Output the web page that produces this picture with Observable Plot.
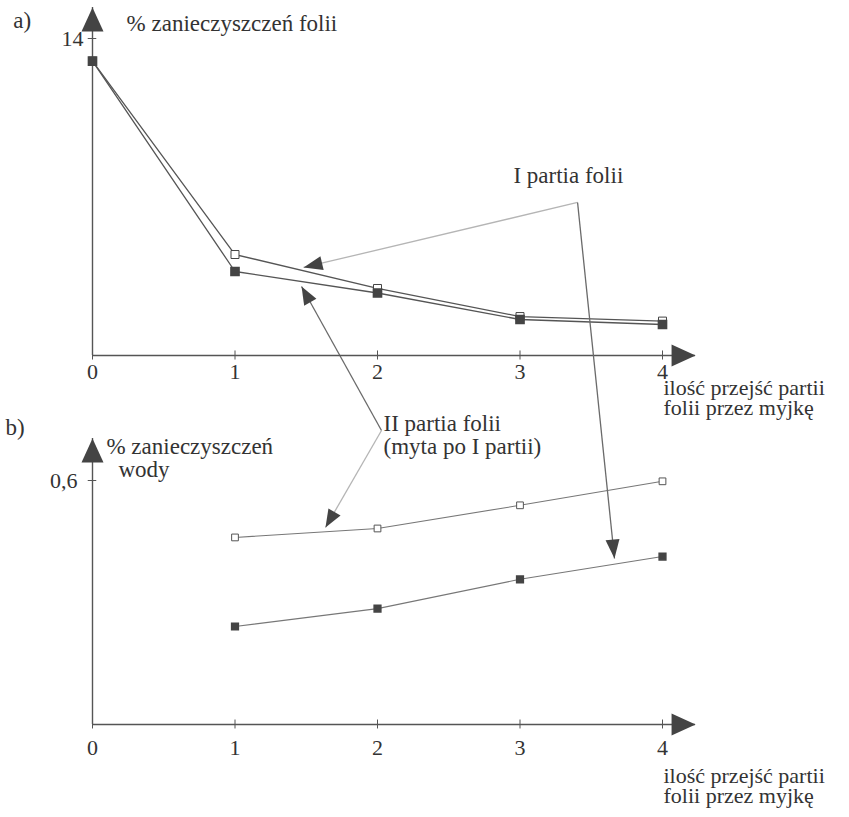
<!DOCTYPE html>
<html><head><meta charset="utf-8">
<script src="https://cdn.jsdelivr.net/npm/d3@7"></script>
<script src="https://cdn.jsdelivr.net/npm/@observablehq/plot@0.6"></script>
<style>
html,body{margin:0;padding:0;background:#fff;}
#fig{position:relative;width:849px;height:817px;overflow:hidden;}
#fig > div{position:absolute;left:0;}
</style></head><body>
<div id="fig"><div id="pb" style="top:415px"></div><div id="pa" style="top:0"></div></div>
<script>
// ---------- data ----------
const passes = [0, 1, 2, 3, 4];
const foilBatch1 = [13.0, 4.46, 2.96, 1.72, 1.52];   // open squares (a)
const foilBatch2 = [13.0, 3.71, 2.76, 1.59, 1.37];   // filled squares (a)
const waterPasses = [1, 2, 3, 4];
const waterOpen = [0.46, 0.482, 0.539, 0.598];        // open squares (b)
const waterFilled = [0.241, 0.285, 0.357, 0.413];     // filled squares (b)
const xTicks = [0, 1, 2, 3, 4];
const yTicksA = [14];
const yTicksB = [0.6];
const panelLabels = ["a)", "b)"];
const yLabelA = "% zanieczyszczeń folii";
const yLabelB = ["% zanieczyszczeń", "wody"];
const xLabel = "ilość przejść partii\nfolii przez myjkę";
const note1 = "I partia folii";
const note2 = "II partia folii\n(myta po I partii)";

// ---------- layout ----------
const W = 849, HA = 415, HB = 402;
const FONT = "'Liberation Serif', 'Times New Roman', serif", FS = 23, INK = "#333";
const xDom = [0, 4], xRng = [92, 662];
const yDomA = [0, 14], yRngA = [355, 38];
const yDomB = [0, 0.6], yRngB = [309, 65];
const xs = d3.scaleLinear(xDom, xRng);
const ysA = d3.scaleLinear(yDomA, yRngA);
const ysB = d3.scaleLinear(yDomB, yRngB);

const rowsA1 = passes.map((p, i) => ({p, v: foilBatch1[i]}));
const rowsA2 = passes.map((p, i) => ({p, v: foilBatch2[i]}));
const rowsB1 = waterPasses.map((p, i) => ({p, v: waterOpen[i]}));
const rowsB2 = waterPasses.map((p, i) => ({p, v: waterFilled[i]}));

function head(L, Wd, deg) {
  const a = deg * Math.PI / 180, c = Math.cos(a), s = Math.sin(a);
  const pts = [[0, 0], [Wd, L], [-Wd, L]].map(([x, y]) => [x * c - y * s, x * s + y * c]);
  return {draw(ctx) { ctx.moveTo(...pts[0]); ctx.lineTo(...pts[1]); ctx.lineTo(...pts[2]); ctx.closePath(); }};
}
function angle(from, to, ys) {
  const dx = xs(to.x) - xs(from.x), dy = ys(to.y) - ys(from.y);
  return Math.atan2(dx, -dy) * 180 / Math.PI;
}
function arrow(from, to, ys, color, L, Wd) {
  return [
    Plot.link([{x1: from.x, y1: from.y, x2: to.x, y2: to.y}], {x1: "x1", y1: "y1", x2: "x2", y2: "y2", stroke: color, strokeWidth: 1.3}),
    Plot.dot([to], {x: "x", y: "y", symbol: head(L, Wd, angle(from, to, ys)), fill: "#444", stroke: "none"})
  ];
}
function axisHead(tip, deg) {
  return Plot.dot([tip], {x: "x", y: "y", symbol: head(24, 11, deg), fill: "#444", stroke: "none"});
}
function txt(list, opts) {
  return Plot.text(list, {text: "t", x: "x", y: "y", textAnchor: "start", fontSize: FS, fontFamily: FONT, fill: INK, ...opts});
}
const intFmt = d => String(d);

// ---------- panel a ----------
const axTipA = {x: 4.232, y: 0}, ayTipA = {x: 0, y: 15.37};
const v1 = {x: 3.404, y: 6.758};
const plotA = Plot.plot({
  width: W, height: HA,
  marginLeft: 92, marginRight: W - 662, marginTop: 38, marginBottom: HA - 355,
  x: {domain: xDom, range: xRng},
  y: {domain: yDomA, range: yRngA},
  style: {fontFamily: FONT, fontSize: FS + "px", color: INK, overflow: "visible", background: "transparent"},
  marks: [
    Plot.ruleY([0], {x1: 0, x2: axTipA.x, stroke: "#555", strokeWidth: 1.4}),
    Plot.ruleX([0], {y1: 0, y2: ayTipA.y, stroke: "#555", strokeWidth: 1.4}),
    Plot.ruleX(xTicks, {x: d => d, y1: () => -0.2, y2: () => 0.2, stroke: "#555"}),
    Plot.ruleY(yTicksA, {y: d => d, x1: () => -0.03, x2: () => 0.03, stroke: "#555"}),
    axisHead(axTipA, 90), axisHead(ayTipA, 0),
    Plot.axisX({ticks: xTicks, tickSize: 0, tickPadding: 8, label: null, fontSize: 22, tickFormat: intFmt}),
    Plot.axisY({ticks: yTicksA, tickSize: 0, tickPadding: 9, label: null, fontSize: 22, tickFormat: intFmt}),
    Plot.line(rowsA1, {x: "p", y: "v", stroke: "#555", strokeWidth: 1.3}),
    Plot.line(rowsA2, {x: "p", y: "v", stroke: "#555", strokeWidth: 1.3}),
    Plot.dot(rowsA1, {x: "p", y: "v", symbol: "square", r: 4.5, fill: "white", stroke: "#444", strokeWidth: 1}),
    Plot.dot(rowsA2, {x: "p", y: "v", symbol: "square", r: 4.6, fill: "#444", stroke: "#444"}),
    txt([{t: panelLabels[0], x: -0.556, y: 14.8}]),
    txt([{t: yLabelA, x: 0.239, y: 14.66}]),
    txt([{t: xLabel, x: 4.007, y: -1.90}], {fontSize: 22, lineHeight: 0.92}),
    txt([{t: note1, x: 2.954, y: 7.95}]),
    ...arrow(v1, {x: 1.481, y: 3.887}, ysA, "#b5b5b5", 19, 7),
    ...arrow(v1, {x: 3.663, y: -8.967}, ysA, "#6a6a6a", 19, 7)
  ]
});
document.getElementById("pa").appendChild(plotA);

// ---------- panel b ----------
const axTipB = {x: 4.232, y: 0}, ayTipB = {x: 0, y: 0.703};
const v2 = {x: 2.028, y: 0.7229};
const plotB = Plot.plot({
  width: W, height: HB,
  marginLeft: 92, marginRight: W - 662, marginTop: 65, marginBottom: HB - 309,
  x: {domain: xDom, range: xRng},
  y: {domain: yDomB, range: yRngB},
  style: {fontFamily: FONT, fontSize: FS + "px", color: INK, overflow: "visible", background: "transparent"},
  marks: [
    Plot.ruleY([0], {x1: 0, x2: axTipB.x, stroke: "#555", strokeWidth: 1.4}),
    Plot.ruleX([0], {y1: 0, y2: ayTipB.y, stroke: "#555", strokeWidth: 1.4}),
    Plot.ruleX(xTicks, {x: d => d, y1: () => -0.011, y2: () => 0.011, stroke: "#555"}),
    Plot.ruleY(yTicksB, {y: d => d, x1: () => -0.03, x2: () => 0.03, stroke: "#555"}),
    axisHead(axTipB, 90), axisHead(ayTipB, 0),
    Plot.axisX({ticks: xTicks, tickSize: 0, tickPadding: 15, label: null, fontSize: 22, tickFormat: intFmt}),
    Plot.axisY({ticks: yTicksB, tickSize: 0, tickPadding: 15, label: null, fontSize: 22, tickFormat: d => String(d).replace(".", ",")}),
    Plot.line(rowsB1, {x: "p", y: "v", stroke: "#777", strokeWidth: 1.1}),
    Plot.line(rowsB2, {x: "p", y: "v", stroke: "#777", strokeWidth: 1.1}),
    Plot.dot(rowsB1, {x: "p", y: "v", symbol: "square", r: 3.8, fill: "white", stroke: "#555", strokeWidth: 1}),
    Plot.dot(rowsB2, {x: "p", y: "v", symbol: "square", r: 3.8, fill: "#444", stroke: "#444"}),
    txt([{t: panelLabels[1], x: -0.611, y: 0.730}]),
    txt([{t: yLabelB[0], x: 0.098, y: 0.683}, {t: yLabelB[1], x: 0.182, y: 0.627}]),
    txt([{t: xLabel, x: 4.007, y: -0.153}], {fontSize: 22, lineHeight: 0.92}),
    txt([{t: note2, x: 2.042, y: 0.712}], {lineHeight: 1.0}),
    ...arrow(v2, {x: 1.467, y: 1.077}, ysB, "#6a6a6a", 18, 7),
    ...arrow(v2, {x: 1.635, y: 0.4844}, ysB, "#b5b5b5", 18, 7)
  ]
});
document.getElementById("pb").appendChild(plotB);
</script>
</body></html>
